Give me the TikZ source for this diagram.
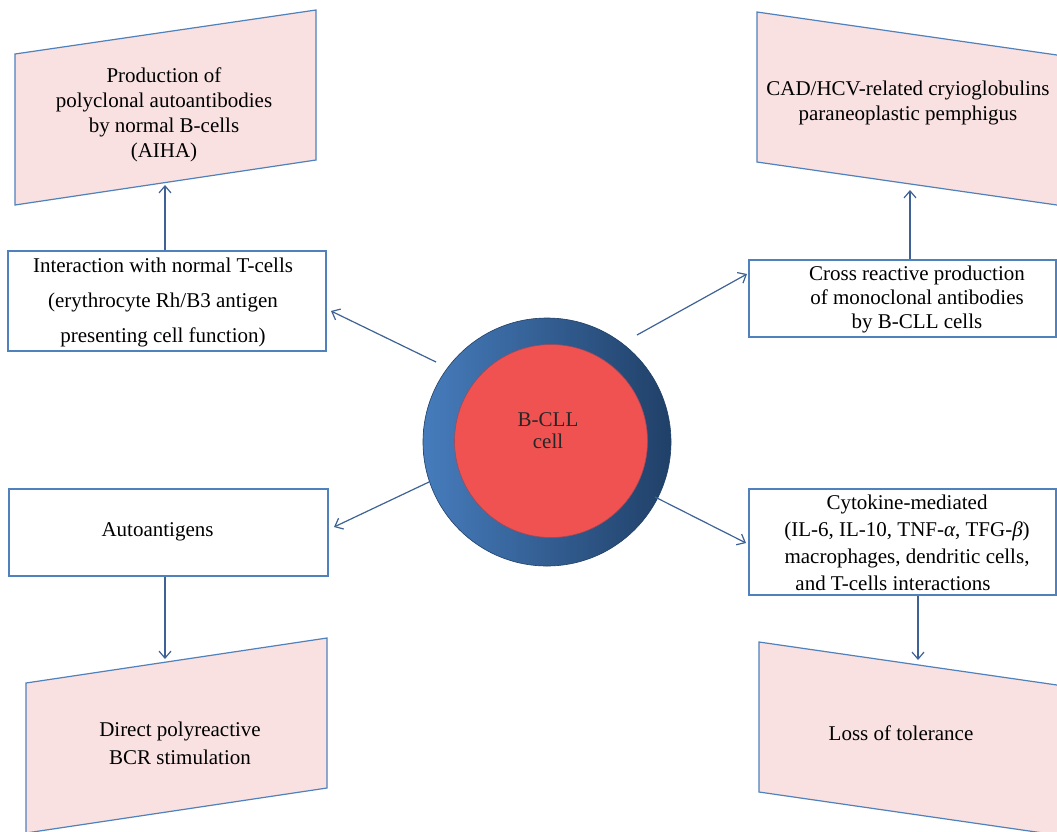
\documentclass[tikz,border=0pt]{standalone}
\usepackage{fontspec}
\setmainfont{Liberation Serif}
\usetikzlibrary{arrows.meta,calc}
\definecolor{bord}{RGB}{79,129,189}
\definecolor{pinkf}{RGB}{249,225,225}
\definecolor{arrc}{RGB}{62,98,150}
\definecolor{redc}{RGB}{240,82,82}
\definecolor{blueL}{RGB}{70,124,188}
\definecolor{blueD}{RGB}{32,64,104}
\begin{document}
\begin{tikzpicture}[x=1pt,y=-1pt,
  txt/.style={inner sep=0pt, align=center, font=\fontsize{21}{25}\selectfont},
  boxnode/.style={rectangle, draw=bord, line width=1.2pt, fill=white, inner sep=0pt},
  trap/.style={draw=bord, fill=pinkf, line width=1.2pt},
  arr/.style={draw=arrc, line width=1.2pt, -{Straight Barb[length=7pt,width=12pt]}}]
\useasboundingbox (0,0) rectangle (1057,831);
\clip (0,0) rectangle (1057,831);
\fill[white] (0,0) rectangle (1057,831);

% trapezoids
\filldraw[trap] (15,54) -- (316,10) -- (316,160) -- (15,205) -- cycle;
\filldraw[trap] (757,12) -- (1075,57.6) -- (1075,207.6) -- (757,162) -- cycle;
\filldraw[trap] (26,683) -- (327,638) -- (327,788) -- (26,833) -- cycle;
\filldraw[trap] (759,642) -- (1075,687.6) -- (1075,837.6) -- (759,792) -- cycle;

\node[txt] (p1) at (164,115) {Production of\\polyclonal autoantibodies\\by normal B-cells\\(AIHA)};
\node[txt] (p2) at (908,102.5) {CAD/HCV-related cryioglobulins\\paraneoplastic pemphigus};
\node[txt, font=\fontsize{21}{28}\selectfont] (p3) at (180,743) {Direct polyreactive\\BCR stimulation};
\node[txt] (p4) at (901,733) {Loss of tolerance};

% boxes
\node[boxnode, minimum width=318pt, minimum height=100pt] (inter) at (167,301) {};
\node[boxnode, minimum width=307pt, minimum height=77pt] (cross) at (902.5,298.5) {};
\node[boxnode, minimum width=319pt, minimum height=87pt] (auto) at (168.5,532.5) {};
\node[boxnode, minimum width=307pt, minimum height=106pt] (cyto) at (902.5,542) {};

\node[txt, font=\fontsize{21}{35}\selectfont] (intert) at (163,302) {Interaction with normal T-cells\\(erythrocyte Rh/B3 antigen\\presenting cell function)};
\node[txt, font=\fontsize{21}{24}\selectfont] (crosst) at (917,299) {Cross reactive production\\of monoclonal antibodies\\by B-CLL cells};
\node[txt] (autot) at (157.5,532) {Autoantigens};
\node[txt, font=\fontsize{21}{27}\selectfont] (cytot) at (907,543) {Cytokine-mediated\\(IL-6, IL-10, TNF-\textit{α}, TFG-\textit{β})\\macrophages, dendritic cells,\\and T-cells interactions\hspace*{28pt}};

% cell
\node[circle, minimum size=248pt, inner sep=0pt, left color=blueL, right color=blueD, draw=blueD, line width=0.6pt] (cell) at (547,442) {};
\node[circle, minimum size=193pt, inner sep=0pt, fill=redc, draw=blueD!40!redc, line width=0.6pt] (core) at (551,441) {};
\node[txt, font=\fontsize{21}{22}\selectfont, text=black!85] (cellt) at (548,431) {B-CLL\\cell};

% vertical arrows
\coordinate (a1) at (165,185);
\coordinate (a2) at (910,190);
\coordinate (a3) at (165,659);
\coordinate (a4) at (918,660);
\draw[arr] (a1 |- inter.north) -- (a1);
\draw[arr] (a2 |- cross.north) -- (a2);
\draw[arr] (a3 |- auto.south) -- (a3);
\draw[arr] (a4 |- cyto.south) -- (a4);

% diagonal arrows
\coordinate (s1) at (436,362); \coordinate (t1) at (331,311);
\coordinate (s2) at (637,335); \coordinate (t2) at (747,274);
\coordinate (s3) at (429,482); \coordinate (t3) at (334,527);
\coordinate (s4) at (655,497); \coordinate (t4) at (746,543);
\draw[arr] (s1) -- (t1);
\draw[arr] (s2) -- (t2);
\draw[arr] (s3) -- (t3);
\draw[arr] (s4) -- (t4);
\end{tikzpicture}
\end{document}
